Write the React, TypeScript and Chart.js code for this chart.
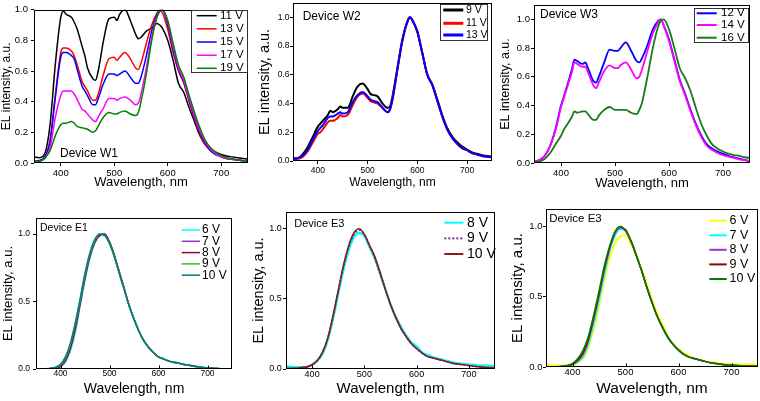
import React, { useEffect, useRef } from "react";
import { Chart, registerables } from "chart.js";

Chart.register(...registerables);

const FONT = "'Liberation Sans', Arial, Helvetica, sans-serif";

// ---------- data ----------
const WL_W = [350, 360, 370, 380, 390, 400, 405, 410, 420, 425, 430, 440, 445, 450, 460, 465, 470, 480, 490, 500, 505, 510, 520, 530, 540, 545, 550, 560, 570, 580, 585, 590, 600, 610, 620, 630, 640, 650, 660, 670, 680, 690, 700, 710, 720, 730, 740, 750];

const W1_11V = [0.04, 0.035, 0.06, 0.25, 0.65, 0.95, 0.99, 0.97, 0.95, 0.92, 0.88, 0.76, 0.7, 0.62, 0.55, 0.54, 0.6, 0.8, 0.94, 0.95, 0.93, 0.97, 1.0, 0.93, 0.84, 0.81, 0.82, 0.86, 0.88, 0.91, 0.9, 0.88, 0.8, 0.67, 0.52, 0.46, 0.36, 0.27, 0.18, 0.12, 0.09, 0.07, 0.055, 0.045, 0.04, 0.035, 0.03, 0.025];
const W1_13V = [0.01, 0.015, 0.04, 0.15, 0.45, 0.72, 0.75, 0.75, 0.73, 0.7, 0.65, 0.53, 0.5, 0.47, 0.41, 0.41, 0.45, 0.58, 0.68, 0.69, 0.67, 0.69, 0.72, 0.68, 0.62, 0.61, 0.65, 0.78, 0.9, 0.98, 1.0, 0.98, 0.87, 0.72, 0.6, 0.52, 0.4, 0.29, 0.19, 0.12, 0.08, 0.055, 0.04, 0.03, 0.025, 0.02, 0.015, 0.01];
const W1_15V = [0.01, 0.015, 0.04, 0.14, 0.43, 0.69, 0.72, 0.72, 0.7, 0.68, 0.62, 0.5, 0.47, 0.44, 0.38, 0.38, 0.42, 0.52, 0.58, 0.58, 0.57, 0.58, 0.6, 0.56, 0.52, 0.52, 0.56, 0.7, 0.86, 0.97, 0.99, 1.0, 0.9, 0.74, 0.61, 0.53, 0.41, 0.3, 0.2, 0.13, 0.08, 0.055, 0.04, 0.03, 0.025, 0.02, 0.015, 0.01];
const W1_17V = [0.005, 0.01, 0.03, 0.1, 0.3, 0.44, 0.47, 0.47, 0.47, 0.45, 0.42, 0.35, 0.34, 0.32, 0.28, 0.27, 0.3, 0.36, 0.42, 0.42, 0.41, 0.42, 0.43, 0.41, 0.38, 0.39, 0.45, 0.62, 0.82, 0.96, 0.99, 1.0, 0.92, 0.76, 0.62, 0.54, 0.42, 0.31, 0.21, 0.14, 0.09, 0.06, 0.04, 0.03, 0.025, 0.02, 0.015, 0.01];
const W1_19V = [0.005, 0.01, 0.03, 0.08, 0.18, 0.25, 0.26, 0.26, 0.27, 0.26, 0.24, 0.23, 0.225, 0.22, 0.2, 0.21, 0.24, 0.3, 0.33, 0.32, 0.32, 0.33, 0.34, 0.32, 0.31, 0.33, 0.4, 0.58, 0.8, 0.95, 0.99, 1.0, 0.93, 0.78, 0.64, 0.56, 0.44, 0.33, 0.23, 0.15, 0.1, 0.07, 0.05, 0.035, 0.025, 0.02, 0.015, 0.01];

const W2_9V = [0.02, 0.02, 0.05, 0.1, 0.17, 0.24, 0.26, 0.28, 0.32, 0.35, 0.34, 0.36, 0.38, 0.37, 0.37, 0.4, 0.45, 0.52, 0.54, 0.5, 0.47, 0.46, 0.45, 0.4, 0.37, 0.38, 0.45, 0.65, 0.85, 0.97, 1.0, 0.98, 0.9, 0.75, 0.6, 0.53, 0.43, 0.32, 0.23, 0.17, 0.13, 0.1, 0.08, 0.06, 0.05, 0.04, 0.035, 0.03];
const W2_11V = [0.01, 0.015, 0.03, 0.07, 0.13, 0.19, 0.2, 0.22, 0.27, 0.28, 0.28, 0.3, 0.32, 0.31, 0.32, 0.35, 0.39, 0.45, 0.47, 0.44, 0.42, 0.41, 0.4, 0.37, 0.34, 0.36, 0.43, 0.64, 0.84, 0.97, 1.0, 0.98, 0.9, 0.75, 0.6, 0.53, 0.42, 0.31, 0.22, 0.16, 0.12, 0.09, 0.075, 0.055, 0.045, 0.035, 0.03, 0.025];
const W2_13V = [0.015, 0.02, 0.04, 0.08, 0.15, 0.21, 0.23, 0.25, 0.3, 0.31, 0.31, 0.33, 0.34, 0.33, 0.34, 0.37, 0.41, 0.46, 0.48, 0.45, 0.43, 0.42, 0.41, 0.37, 0.34, 0.36, 0.43, 0.64, 0.84, 0.97, 1.0, 0.98, 0.9, 0.75, 0.6, 0.53, 0.42, 0.31, 0.22, 0.16, 0.12, 0.09, 0.075, 0.055, 0.045, 0.035, 0.03, 0.025];

const W3_12V = [0.01, 0.02, 0.05, 0.12, 0.24, 0.4, 0.46, 0.52, 0.65, 0.72, 0.71, 0.69, 0.7, 0.66, 0.57, 0.56, 0.6, 0.7, 0.79, 0.78, 0.78, 0.8, 0.84, 0.78, 0.71, 0.7, 0.73, 0.82, 0.93, 0.99, 1.0, 0.96, 0.86, 0.72, 0.58, 0.48, 0.37, 0.27, 0.19, 0.13, 0.1, 0.08, 0.065, 0.05, 0.04, 0.03, 0.02, 0.015];
const W3_14V = [0.01, 0.02, 0.05, 0.12, 0.23, 0.39, 0.45, 0.51, 0.63, 0.7, 0.69, 0.67, 0.67, 0.63, 0.54, 0.52, 0.56, 0.64, 0.68, 0.66, 0.66, 0.68, 0.7, 0.65, 0.59, 0.6, 0.65, 0.78, 0.9, 0.98, 1.0, 0.96, 0.85, 0.71, 0.57, 0.47, 0.36, 0.26, 0.18, 0.12, 0.09, 0.07, 0.055, 0.045, 0.035, 0.025, 0.02, 0.012];
const W3_16V = [0.005, 0.01, 0.03, 0.07, 0.13, 0.19, 0.23, 0.26, 0.32, 0.36, 0.35, 0.36, 0.36, 0.34, 0.3, 0.3, 0.33, 0.37, 0.39, 0.37, 0.37, 0.37, 0.37, 0.35, 0.34, 0.37, 0.42, 0.6, 0.8, 0.95, 0.99, 1.0, 0.93, 0.8, 0.66, 0.59, 0.5, 0.38, 0.27, 0.19, 0.13, 0.1, 0.08, 0.065, 0.055, 0.05, 0.04, 0.035];

const WL_E = [350, 360, 370, 380, 390, 400, 410, 420, 430, 440, 450, 460, 470, 480, 490, 500, 510, 520, 530, 540, 550, 560, 570, 580, 590, 600, 610, 620, 630, 640, 650, 660, 670, 680, 690, 700, 710, 720, 730, 740, 750];

const E1_6V = [0, 0, 0, 0.002, 0.005, 0.015, 0.05, 0.13, 0.27, 0.46, 0.66, 0.82, 0.93, 0.99, 0.99, 0.94, 0.84, 0.71, 0.59, 0.47, 0.37, 0.28, 0.21, 0.16, 0.12, 0.09, 0.075, 0.06, 0.05, 0.045, 0.035, 0.03, 0.022, 0.017, 0.012, 0.008, 0.005, 0.003, 0.002, 0.001, 0];
const E1_7V = [0, 0, 0, 0.003, 0.007, 0.02, 0.06, 0.15, 0.29, 0.48, 0.67, 0.83, 0.94, 0.99, 1.0, 0.94, 0.84, 0.71, 0.59, 0.47, 0.37, 0.28, 0.21, 0.16, 0.12, 0.09, 0.075, 0.06, 0.05, 0.045, 0.035, 0.03, 0.022, 0.017, 0.012, 0.008, 0.005, 0.003, 0.002, 0.001, 0];
const E1_8V = [0, 0, 0, 0.003, 0.008, 0.02, 0.065, 0.155, 0.3, 0.49, 0.68, 0.84, 0.94, 0.99, 1.0, 0.94, 0.84, 0.72, 0.6, 0.47, 0.37, 0.28, 0.21, 0.16, 0.12, 0.09, 0.075, 0.06, 0.05, 0.045, 0.035, 0.03, 0.022, 0.017, 0.012, 0.008, 0.005, 0.003, 0.002, 0.001, 0];
const E1_9V = [0, 0, 0.001, 0.004, 0.012, 0.03, 0.08, 0.18, 0.33, 0.51, 0.7, 0.85, 0.95, 1.0, 0.99, 0.93, 0.83, 0.71, 0.59, 0.47, 0.37, 0.28, 0.21, 0.16, 0.12, 0.09, 0.075, 0.06, 0.05, 0.045, 0.035, 0.03, 0.022, 0.017, 0.012, 0.008, 0.005, 0.003, 0.002, 0.001, 0];
const E1_10V = [0, 0, 0.001, 0.005, 0.014, 0.035, 0.09, 0.19, 0.34, 0.52, 0.71, 0.86, 0.96, 1.0, 0.99, 0.93, 0.83, 0.71, 0.59, 0.47, 0.37, 0.28, 0.21, 0.16, 0.12, 0.09, 0.075, 0.06, 0.05, 0.045, 0.035, 0.03, 0.022, 0.017, 0.012, 0.008, 0.005, 0.003, 0.002, 0.001, 0];

const E3_8V = [0.02, 0.015, 0.012, 0.012, 0.015, 0.03, 0.06, 0.11, 0.21, 0.36, 0.54, 0.71, 0.85, 0.94, 0.97, 0.95, 0.87, 0.79, 0.68, 0.57, 0.46, 0.37, 0.3, 0.24, 0.19, 0.16, 0.12, 0.1, 0.085, 0.075, 0.065, 0.055, 0.045, 0.04, 0.035, 0.03, 0.03, 0.025, 0.025, 0.02, 0.02];
const E3_9V = [0.004, 0.004, 0.005, 0.01, 0.015, 0.03, 0.06, 0.12, 0.22, 0.37, 0.55, 0.73, 0.87, 0.96, 0.99, 0.96, 0.88, 0.79, 0.68, 0.57, 0.46, 0.37, 0.29, 0.23, 0.18, 0.145, 0.115, 0.09, 0.08, 0.07, 0.06, 0.05, 0.04, 0.035, 0.03, 0.025, 0.02, 0.015, 0.012, 0.01, 0.008];
const E3_10V = [0.005, 0.005, 0.005, 0.01, 0.015, 0.03, 0.06, 0.12, 0.22, 0.38, 0.56, 0.74, 0.88, 0.97, 1.0, 0.96, 0.88, 0.8, 0.69, 0.57, 0.46, 0.37, 0.29, 0.23, 0.18, 0.145, 0.115, 0.09, 0.08, 0.07, 0.06, 0.05, 0.04, 0.035, 0.03, 0.025, 0.02, 0.015, 0.012, 0.01, 0.008];

const E3B_6V = [0.02, 0.01, 0.01, 0.01, 0.01, 0.01, 0.03, 0.06, 0.14, 0.27, 0.44, 0.62, 0.78, 0.88, 0.93, 0.94, 0.88, 0.8, 0.7, 0.59, 0.48, 0.38, 0.3, 0.22, 0.16, 0.13, 0.1, 0.08, 0.06, 0.05, 0.04, 0.035, 0.03, 0.025, 0.02, 0.02, 0.02, 0.015, 0.02, 0.02, 0.015];
const E3B_7V = [0, 0, 0.001, 0.003, 0.006, 0.015, 0.035, 0.07, 0.16, 0.3, 0.47, 0.65, 0.82, 0.93, 0.98, 0.97, 0.9, 0.8, 0.69, 0.57, 0.46, 0.36, 0.28, 0.21, 0.16, 0.12, 0.09, 0.07, 0.06, 0.05, 0.04, 0.03, 0.025, 0.02, 0.015, 0.012, 0.01, 0.008, 0.006, 0.005, 0.004];
const E3B_8V = [0, 0, 0.001, 0.004, 0.008, 0.02, 0.045, 0.09, 0.19, 0.34, 0.51, 0.69, 0.84, 0.95, 0.99, 0.98, 0.9, 0.8, 0.69, 0.57, 0.46, 0.36, 0.28, 0.21, 0.16, 0.12, 0.09, 0.07, 0.06, 0.05, 0.04, 0.03, 0.025, 0.02, 0.015, 0.012, 0.01, 0.008, 0.006, 0.005, 0.004];
const E3B_9V = [0, 0, 0.001, 0.004, 0.008, 0.02, 0.05, 0.1, 0.2, 0.35, 0.52, 0.7, 0.85, 0.96, 1.0, 0.97, 0.9, 0.8, 0.69, 0.57, 0.46, 0.36, 0.28, 0.21, 0.16, 0.12, 0.09, 0.07, 0.06, 0.05, 0.04, 0.03, 0.025, 0.02, 0.015, 0.012, 0.01, 0.008, 0.006, 0.005, 0.004];
const E3B_10V = [0, 0, 0.002, 0.005, 0.01, 0.025, 0.06, 0.12, 0.22, 0.37, 0.54, 0.72, 0.86, 0.96, 1.0, 0.97, 0.9, 0.8, 0.69, 0.57, 0.46, 0.36, 0.28, 0.21, 0.16, 0.12, 0.09, 0.07, 0.06, 0.05, 0.04, 0.03, 0.025, 0.02, 0.015, 0.012, 0.01, 0.008, 0.006, 0.005, 0.004];

const X_TICKS = [400, 500, 600, 700];
const Y_TICKS_TOP = [0, 0.2, 0.4, 0.6, 0.8, 1.0];
const Y_TICKS_BOTTOM = [0, 0.5, 1.0];
const X_TITLE = "Wavelength, nm";
const Y_TITLE = "EL intensity, a.u.";

// ---------- panel configuration ----------
type Series = { label: string; color: string; values: number[]; dash?: number[]; width?: number };
type Panel = {
  wl: number[];
  series: Series[];
  plot: [number, number, number, number];
  yMax: number;
  yTicks: number[];
  yTitleX: number;
  xTitleY: number;
  ySize: number;
  xSize: number;
  tickSize: number;
  xTickPad: number;
  xTicksOut: boolean;
  yGap: number;
  lineWidth: number;
  device: { text: string; x: number; y: number; size: number };
  legend: { frame?: [number, number, number, number]; lineX: [number, number]; textX: number; ys: number[]; size: number; lineWidth: number };
};

const PANELS: Panel[] = [
  {
    wl: WL_W,
    series: [
      { label: "11 V", color: "#000000", values: W1_11V },
      { label: "13 V", color: "#ff0000", values: W1_13V },
      { label: "15 V", color: "#0000ff", values: W1_15V },
      { label: "17 V", color: "#ff00ff", values: W1_17V },
      { label: "19 V", color: "#008000", values: W1_19V },
    ],
    plot: [34, 9, 248, 163],
    yMax: 1.0, yTicks: Y_TICKS_TOP, yTitleX: 6, xTitleY: 181.7,
    ySize: 12, xSize: 13, tickSize: 9.5, xTickPad: 1.5, xTicksOut: true, yGap: 6, lineWidth: 1.5,
    device: { text: "Device W1", x: 60, y: 153.3, size: 12 },
    legend: { frame: [190.7, 10, 247, 71.7], lineX: [196.7, 216.7], textX: 220, ys: [15.7, 28.8, 42, 55.2, 68.3], size: 11.5, lineWidth: 1.5 },
  },
  {
    wl: WL_W,
    series: [
      { label: "9 V", color: "#000000", values: W2_9V },
      { label: "11 V", color: "#ff0000", values: W2_11V },
      { label: "13 V", color: "#0000ff", values: W2_13V },
    ],
    plot: [293, 3, 492, 161],
    yMax: 1.1, yTicks: Y_TICKS_TOP, yTitleX: 265, xTitleY: 182.3,
    ySize: 14.5, xSize: 12, tickSize: 8.5, xTickPad: 1.5, xTicksOut: true, yGap: 3.5, lineWidth: 2,
    device: { text: "Device W2", x: 302.7, y: 16.7, size: 12 },
    legend: { frame: [440, 4, 487.3, 40], lineX: [443.3, 463.3], textX: 466, ys: [10, 23.3, 35], size: 10.5, lineWidth: 3 },
  },
  {
    wl: WL_W,
    series: [
      { label: "12 V", color: "#0000ff", values: W3_12V },
      { label: "14 V", color: "#ff00ff", values: W3_14V },
      { label: "16 V", color: "#1a7a1a", values: W3_16V },
    ],
    plot: [534, 5, 750, 162.5],
    yMax: 1.1, yTicks: Y_TICKS_TOP, yTitleX: 505.3, xTitleY: 183.3,
    ySize: 12.5, xSize: 13, tickSize: 9.5, xTickPad: 1.5, xTicksOut: true, yGap: 4, lineWidth: 1.8,
    device: { text: "Device W3", x: 540, y: 15, size: 12 },
    legend: { frame: [694.3, 8.3, 748.3, 42.7], lineX: [696.7, 716.7], textX: 721, ys: [13.3, 25, 37.7], size: 11.5, lineWidth: 2 },
  },
  {
    wl: WL_E,
    series: [
      { label: "6 V", color: "#00ffff", values: E1_6V },
      { label: "7 V", color: "#9933cc", values: E1_7V },
      { label: "8 V", color: "#990033", values: E1_8V },
      { label: "9 V", color: "#33bb33", values: E1_9V },
      { label: "10 V", color: "#008080", values: E1_10V },
    ],
    plot: [36, 218, 232, 369],
    yMax: 1.118, yTicks: Y_TICKS_BOTTOM, yTitleX: 9, xTitleY: 389.3,
    ySize: 13, xSize: 14, tickSize: 8.5, xTickPad: 0, xTicksOut: false, yGap: 6, lineWidth: 1.5,
    device: { text: "Device E1", x: 40, y: 228.3, size: 10.5 },
    legend: { lineX: [181.7, 200], textX: 202, ys: [230, 241.3, 252.6, 263.9, 275.2], size: 12, lineWidth: 1.5 },
  },
  {
    wl: WL_E,
    series: [
      { label: "8 V", color: "#00ffff", values: E3_8V, width: 2.5 },
      { label: "9 V", color: "#7030a0", values: E3_9V, dash: [2, 2] },
      { label: "10 V", color: "#8b1a1a", values: E3_10V },
    ],
    plot: [286, 212, 495, 369],
    yMax: 1.12, yTicks: Y_TICKS_BOTTOM, yTitleX: 259, xTitleY: 389.3,
    ySize: 14.5, xSize: 15, tickSize: 9, xTickPad: 0, xTicksOut: false, yGap: 4.3, lineWidth: 1.6,
    device: { text: "Device E3", x: 294.3, y: 224, size: 11 },
    legend: { lineX: [444.3, 463.3], textX: 467, ys: [222.7, 238.4, 254], size: 14, lineWidth: 2 },
  },
  {
    wl: WL_E,
    series: [
      { label: "6 V", color: "#ffff00", values: E3B_6V, width: 2 },
      { label: "7 V", color: "#00ffff", values: E3B_7V },
      { label: "8 V", color: "#9933cc", values: E3B_8V },
      { label: "9 V", color: "#990000", values: E3B_9V },
      { label: "10 V", color: "#008000", values: E3B_10V },
    ],
    plot: [546, 209, 758, 367],
    yMax: 1.125, yTicks: Y_TICKS_BOTTOM, yTitleX: 517.5, xTitleY: 388.3,
    ySize: 15, xSize: 15.5, tickSize: 9.5, xTickPad: 0, xTicksOut: false, yGap: 3.5, lineWidth: 1.5,
    device: { text: "Device E3", x: 549.3, y: 219, size: 11.5 },
    legend: { lineX: [709.3, 726.7], textX: 729.5, ys: [220.7, 235.3, 249.8, 264.4, 279], size: 12.5, lineWidth: 2 },
  },
];

// ---------- plugin: frame, device label, legend ----------
const decorPlugin = {
  id: "decor",
  afterDraw(chart: any, _args: any, o: any) {
    const { ctx, chartArea: a } = chart;
    const ox = o.ox, oy = o.oy;
    ctx.save();
    ctx.strokeStyle = "#000";
    ctx.lineWidth = 1;
    const L = Math.round(a.left) + 0.5, T = Math.round(a.top) + 0.5;
    const R = Math.round(a.right) - 0.5, B = Math.round(a.bottom) - 0.5;
    ctx.strokeRect(L, T, R - L, B - T);
    if (o.innerXTicks) {
      const xs = chart.scales.x;
      ctx.beginPath();
      for (const v of o.innerXTicks) {
        const px = Math.round(xs.getPixelForValue(v)) + 0.5;
        ctx.moveTo(px, B);
        ctx.lineTo(px, B - 3);
      }
      ctx.stroke();
    }
    ctx.fillStyle = "#000";
    ctx.textBaseline = "middle";
    ctx.textAlign = "left";
    ctx.font = `${o.device.size}px ${FONT}`;
    ctx.fillText(o.device.text, o.device.x - ox, o.device.y - oy);
    const lg = o.legend;
    if (lg.frame) {
      const [x1, y1, x2, y2] = lg.frame;
      ctx.strokeStyle = "#333";
      ctx.lineWidth = 1;
      ctx.strokeRect(Math.round(x1 - ox) + 0.5, Math.round(y1 - oy) + 0.5, Math.round(x2 - x1), Math.round(y2 - y1));
    }
    ctx.font = `${lg.size}px ${FONT}`;
    o.items.forEach((it: any, i: number) => {
      const y = lg.ys[i] - oy;
      ctx.strokeStyle = it.color;
      ctx.lineWidth = lg.lineWidth;
      ctx.setLineDash(it.dash || []);
      ctx.beginPath();
      ctx.moveTo(lg.lineX[0] - ox, y);
      ctx.lineTo(lg.lineX[1] - ox, y);
      ctx.stroke();
      ctx.setLineDash([]);
      ctx.fillStyle = "#000";
      ctx.fillText(it.label, lg.textX - ox, y);
    });
    ctx.restore();
  },
};

const PT = 8;
const PR = 6;

function geom(p: Panel) {
  const [pl, pt, pr, pb] = p.plot;
  const left = Math.round(p.yTitleX - 0.6 * p.ySize);
  const top = Math.round(pt) - PT;
  const right = Math.round(pr) + PR;
  const bottom = Math.round(p.xTitleY + 0.6 * p.xSize);
  return { left, top, w: right - left, h: bottom - top, yw: Math.round(pl) - left, xh: bottom - Math.round(pb) };
}

function PanelChart({ p }: { p: Panel }) {
  const ref = useRef<HTMLCanvasElement>(null);
  const g = geom(p);
  useEffect(() => {
    const n = p.series.length;
    const tickLen = 3;
    const chart = new Chart(ref.current as HTMLCanvasElement, {
      type: "line",
      data: {
        datasets: p.series.map((s, i) => ({
          label: s.label,
          data: p.wl.map((x, j) => ({ x, y: s.values[j] })),
          borderColor: s.color,
          backgroundColor: s.color,
          borderWidth: s.width ?? p.lineWidth,
          borderDash: s.dash,
          pointRadius: 0,
          fill: false,
          cubicInterpolationMode: "monotone",
          order: n - i,
        })),
      },
      options: {
        responsive: false,
        animation: false,
        devicePixelRatio: 1,
        layout: { padding: { top: PT, right: PR, left: 0, bottom: 0 } },
        plugins: {
          legend: { display: false },
          tooltip: { enabled: false },
          decor: {
            ox: g.left,
            oy: g.top,
            device: p.device,
            legend: p.legend,
            items: p.series.map((s) => ({ label: s.label, color: s.color, dash: s.dash })),
            innerXTicks: p.xTicksOut ? null : X_TICKS,
          },
        } as any,
        scales: {
          x: {
            type: "linear",
            min: 350,
            max: 750,
            afterBuildTicks: (s: any) => {
              s.ticks = X_TICKS.map((v) => ({ value: v }));
            },
            afterFit: (s: any) => {
              s.height = g.xh;
            },
            grid: { drawOnChartArea: false, drawTicks: p.xTicksOut, tickLength: tickLen, color: "#000" },
            border: { display: false },
            ticks: {
              font: { family: FONT, size: p.tickSize },
              color: "#000",
              padding: p.xTickPad,
              maxRotation: 0,
              autoSkip: false,
              callback: (v: any) => String(v),
            },
            title: { display: true, text: X_TITLE, font: { family: FONT, size: p.xSize }, color: "#000", padding: 0 },
          },
          y: {
            type: "linear",
            min: 0,
            max: p.yMax,
            afterBuildTicks: (s: any) => {
              s.ticks = p.yTicks.map((v) => ({ value: v }));
            },
            afterFit: (s: any) => {
              s.width = g.yw;
            },
            grid: { drawOnChartArea: false, drawTicks: true, tickLength: tickLen, color: "#000" },
            border: { display: false },
            ticks: {
              font: { family: FONT, size: p.tickSize },
              color: "#000",
              padding: Math.max(0, p.yGap - tickLen),
              autoSkip: false,
              callback: (v: any) => Number(v).toFixed(1),
            },
            title: { display: true, text: Y_TITLE, font: { family: FONT, size: p.ySize }, color: "#000", padding: 0 },
          },
        },
      } as any,
      plugins: [decorPlugin as any],
    });
    return () => chart.destroy();
  }, []);
  return (
    <canvas
      ref={ref}
      width={g.w}
      height={g.h}
      style={{ position: "absolute", left: g.left, top: g.top, width: g.w, height: g.h }}
    />
  );
}

export default function App() {
  return (
    <div style={{ position: "absolute", left: 0, top: 0, width: 760, height: 401, background: "#fff", overflow: "hidden" }}>
      {PANELS.map((p, i) => (
        <PanelChart key={i} p={p} />
      ))}
    </div>
  );
}
